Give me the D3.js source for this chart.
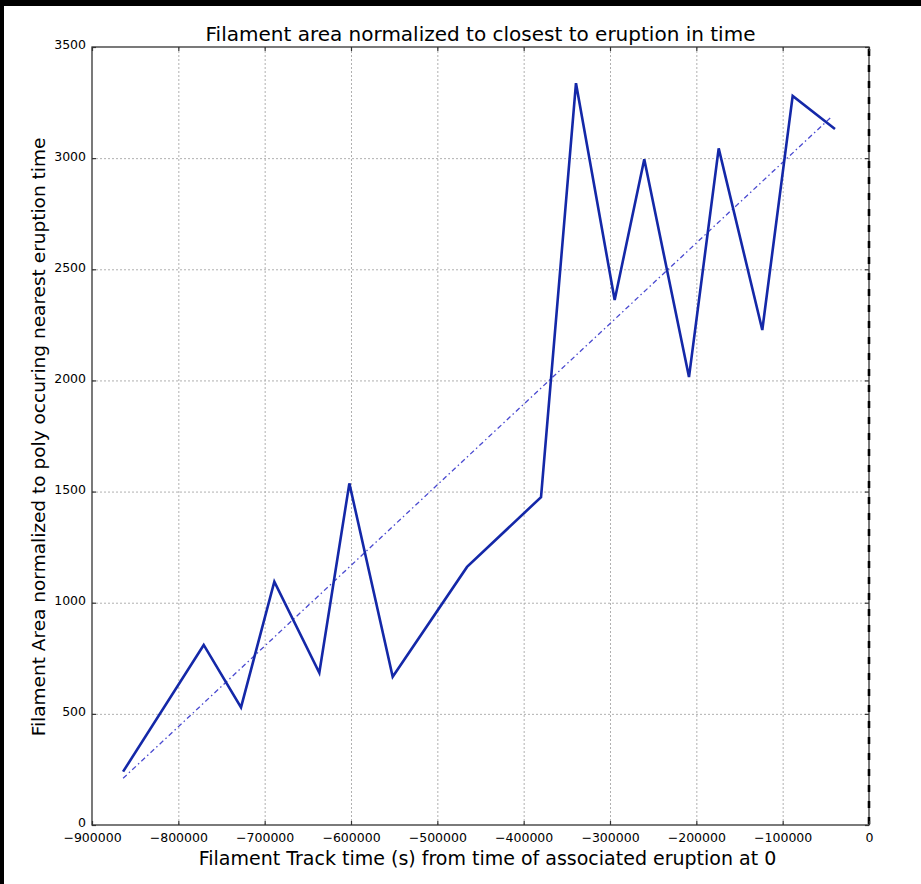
<!DOCTYPE html>
<html>
<head>
<meta charset="utf-8">
<script src="https://cdn.jsdelivr.net/npm/d3@7"></script>
<style>
  html, body { margin: 0; padding: 0; background: #000; }
  svg { display: block; }
  text { font-family: "DejaVu Sans", sans-serif; fill: #000; }
</style>
</head>
<body>
<div id="chart"></div>
<script>
// Filament track: time before eruption (s) and area normalized to the poly nearest eruption
const trackTime = [-864000, -770600, -727400, -688800, -636700, -601900, -551700,
                   -465600, -379900, -339400, -294600, -260300, -208500, -174100,
                   -123600, -88400, -39400];
const filamentArea = [240, 810, 529, 1095, 685, 1537, 667,
                      1161, 1475, 3337, 2362, 2995, 2015, 3044,
                      2227, 3280, 3131];

// Linear trend endpoints
const trendTime = [-864000, -43200];
const trendArea = [210, 3187];

// Axis ticks
const xTicks = [-900000, -800000, -700000, -600000, -500000, -400000, -300000, -200000, -100000, 0];
const yTicks = [0, 500, 1000, 1500, 2000, 2500, 3000, 3500];

const W = 921, H = 884;
const margin = { left: 92, top: 47, right: 869, bottom: 825 };

const svg = d3.select("#chart").append("svg")
  .attr("width", W).attr("height", H);

// Frame: black band at top and left, white canvas
svg.append("rect").attr("x", 0).attr("y", 0).attr("width", W).attr("height", H).attr("fill", "#000");
svg.append("rect").attr("x", 4).attr("y", 6).attr("width", W - 4).attr("height", H - 6).attr("fill", "#fff");

const x = d3.scaleLinear().domain([-900000, 0]).range([margin.left, margin.right]);
const y = d3.scaleLinear().domain([0, 3500]).range([margin.bottom, margin.top]);

const fmt = d => d < 0 ? "\u2212" + Math.abs(d) : String(d);

// Grid
const grid = svg.append("g").attr("stroke", "#b0b0b0").attr("stroke-width", 1)
  .attr("stroke-dasharray", "2,2").attr("fill", "none");
grid.selectAll("line.gx").data(xTicks.slice(1, -1)).join("line")
  .attr("x1", d => x(d) + 0.5).attr("x2", d => x(d) + 0.5)
  .attr("y1", margin.top).attr("y2", margin.bottom);
grid.selectAll("line.gy").data(yTicks.slice(1, -1)).join("line")
  .attr("y1", d => y(d) + 0.5).attr("y2", d => y(d) + 0.5)
  .attr("x1", margin.left).attr("x2", margin.right);

// Trend line (dash-dot)
const trend = trendTime.map((t, i) => [t, trendArea[i]]);
svg.append("path")
  .datum(trend)
  .attr("fill", "none")
  .attr("stroke", "#4a4ad0")
  .attr("stroke-width", 1.3)
  .attr("stroke-dasharray", "5,3,1.5,3")
  .attr("d", d3.line().x(d => x(d[0])).y(d => y(d[1])));

// Data line
const pts = trackTime.map((t, i) => [t, filamentArea[i]]);
svg.append("path")
  .datum(pts)
  .attr("fill", "none")
  .attr("stroke", "#1428a8")
  .attr("stroke-width", 2.6)
  .attr("stroke-linejoin", "miter")
  .attr("d", d3.line().x(d => x(d[0])).y(d => y(d[1])));

// Spines
svg.append("rect")
  .attr("x", margin.left).attr("y", margin.top)
  .attr("width", margin.right - margin.left).attr("height", margin.bottom - margin.top)
  .attr("fill", "none").attr("stroke", "#333").attr("stroke-width", 1.3);

// Eruption time marker at t = 0
svg.append("line")
  .attr("x1", x(0)).attr("x2", x(0))
  .attr("y1", margin.top + 2).attr("y2", margin.bottom)
  .attr("stroke", "#000").attr("stroke-width", 2.6)
  .attr("stroke-dasharray", "7,9");

// Axes with inward ticks
const xAxisB = d3.axisBottom(x).tickValues(xTicks).tickFormat(fmt).tickSizeInner(-4).tickSizeOuter(0).tickPadding(8);
const xAxisT = d3.axisTop(x).tickValues(xTicks).tickFormat("").tickSizeInner(-4).tickSizeOuter(0);
const yAxisL = d3.axisLeft(y).tickValues(yTicks).tickFormat(d => d).tickSizeInner(-4).tickSizeOuter(0).tickPadding(6);
const yAxisR = d3.axisRight(y).tickValues(yTicks).tickFormat("").tickSizeInner(-4).tickSizeOuter(0);

function styleAxis(g) {
  g.select(".domain").remove();
  g.selectAll(".tick line").attr("stroke", "#333").attr("stroke-width", 1.2);
  g.selectAll(".tick text").attr("font-size", 12.5).attr("font-family", "DejaVu Sans").attr("fill", "#000");
}
svg.append("g").attr("transform", `translate(0,${margin.bottom})`).call(xAxisB).call(styleAxis);
svg.append("g").attr("transform", `translate(0,${margin.top})`).call(xAxisT).call(styleAxis);
svg.append("g").attr("transform", `translate(${margin.left},0)`).call(yAxisL).call(styleAxis)
  .selectAll(".tick text").attr("dy", "0.15em");
svg.append("g").attr("transform", `translate(${margin.right},0)`).call(yAxisR).call(styleAxis);

// Titles
svg.append("text")
  .attr("x", (margin.left + margin.right) / 2).attr("y", 41)
  .attr("text-anchor", "middle").attr("font-size", 20)
  .text("Filament area normalized to closest to eruption in time");

svg.append("text")
  .attr("x", (margin.left + margin.right) / 2 + 7).attr("y", 865)
  .attr("text-anchor", "middle").attr("font-size", 19)
  .text("Filament Track time (s) from time of associated eruption at 0");

svg.append("text")
  .attr("transform", `translate(45,${(margin.top + margin.bottom) / 2 + 1}) rotate(-90)`)
  .attr("text-anchor", "middle").attr("font-size", 18.5)
  .text("Filament Area normalized to poly occuring nearest eruption time");
</script>
</body>
</html>
